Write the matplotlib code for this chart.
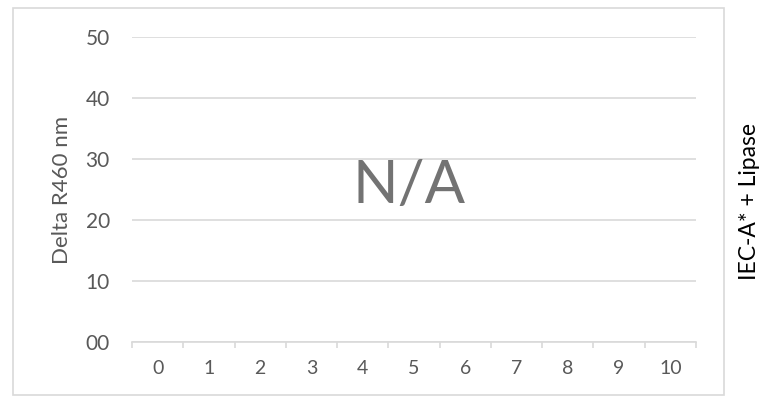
import numpy as np
import matplotlib.pyplot as plt
from matplotlib.patches import Rectangle

# Datos
categorias = ['0', '1', '2', '3', '4', '5', '6', '7', '8', '9', '10']
valores_y = [0, 10, 20, 30, 40, 50]
etiquetas_y = ['00', '10', '20', '30', '40', '50']
texto_centro = 'N/A'
etiqueta_y = 'Delta R460 nm'
etiqueta_derecha = 'IEC-A* + Lipase'

gris_texto = '#595959'
gris_linea = '#d9d9d9'

plt.rcParams['font.family'] = ['Lato', 'DejaVu Sans']

fig = plt.figure(figsize=(7.74, 3.97), dpi=100)
ax = fig.add_axes([132 / 774, 55 / 397, 564 / 774, 305 / 397])

# Marco del gráfico
fig.patches.append(Rectangle((13 / 774, 2 / 397), 711 / 774, 387 / 397,
                             transform=fig.transFigure, fill=False,
                             edgecolor=gris_linea, linewidth=1.2))

x = np.arange(len(categorias))
ax.set_xlim(-0.5, len(categorias) - 0.5)
ax.set_ylim(valores_y[0], valores_y[-1])

ax.set_xticks(x)
ax.set_xticklabels(categorias)
ax.set_xticks(np.arange(len(categorias) + 1) - 0.5, minor=True)
ax.tick_params(axis='x', which='major', length=0, pad=13, labelsize=14, labelcolor=gris_texto)
ax.tick_params(axis='x', which='minor', length=4.5, width=1.2, color=gris_linea, direction='out')

ax.set_yticks(valores_y)
ax.set_yticklabels(etiquetas_y)
ax.tick_params(axis='y', length=0, pad=16, labelsize=15, labelcolor=gris_texto)
ax.yaxis.grid(True, color=gris_linea, linewidth=1.2)
ax.set_axisbelow(True)

for lado in ['top', 'right', 'left']:
    ax.spines[lado].set_visible(False)
ax.spines['bottom'].set_color(gris_linea)
ax.spines['bottom'].set_linewidth(1.2)

ax.set_ylabel(etiqueta_y, fontsize=16, color=gris_texto, labelpad=10)

ax.text(0.492, 0.51, texto_centro, transform=ax.transAxes, fontsize=43,
        color='#737373', ha='center', va='center')

fig.text(750 / 774, 1 - 201 / 397, etiqueta_derecha, rotation=90, fontsize=16.5,
         color='black', ha='center', va='center')

fig.savefig('out.png', dpi=100)
